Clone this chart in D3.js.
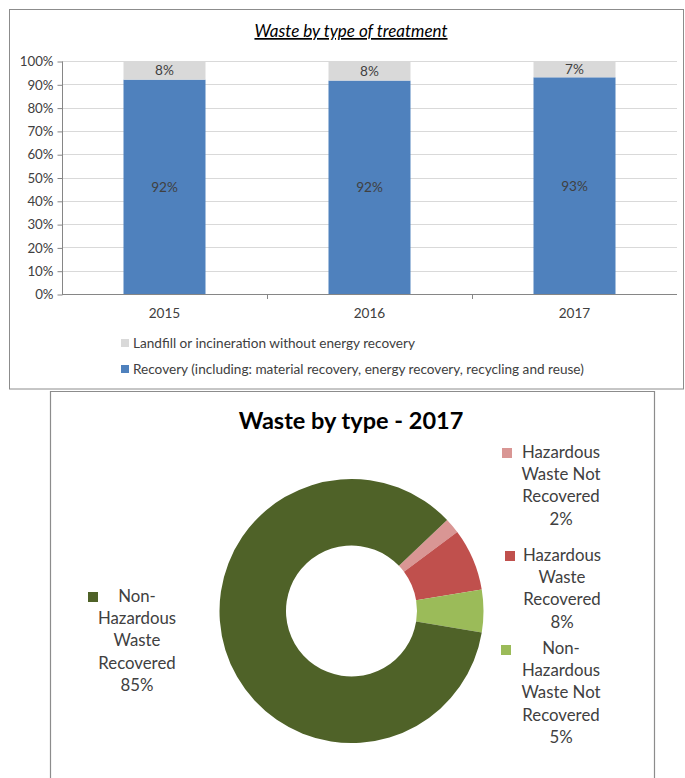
<!DOCTYPE html>
<html>
<head>
<meta charset="utf-8">
<script src="https://cdn.jsdelivr.net/npm/d3@7"></script>
<style>
  html, body { margin: 0; padding: 0; background: #fff; }
  svg { display: block; }
  text { font-family: Lato, "Open Sans", sans-serif; }
</style>
</head>
<body>
<svg id="chart" width="685" height="778"></svg>
<script>
// ---------- data ----------
const years = ["2015", "2016", "2017"];
const recovery = [92, 91.6, 93];
const landfill = [8, 8.4, 7];
const recoveryLabels = ["92%", "92%", "93%"];
const landfillLabels = ["8%", "8%", "7%"];
const yTicks = [0, 10, 20, 30, 40, 50, 60, 70, 80, 90, 100];
const barSeries = ["Landfill or incineration without energy recovery",
                   "Recovery (including: material recovery, energy recovery, recycling and reuse)"];

const wasteTypes = ["Hazardous Waste Not Recovered", "Hazardous Waste Recovered",
                    "Non-Hazardous Waste Not Recovered", "Non-Hazardous Waste Recovered"];
const wasteShares = [1.9, 7.6, 5.2, 85.3];
const wasteLegendLines = [
  ["Hazardous", "Waste Not", "Recovered"],
  ["Hazardous", "Waste", "Recovered"],
  ["Non-", "Hazardous", "Waste Not", "Recovered"],
  ["Non-", "Hazardous", "Waste", "Recovered"]
];

// ---------- styles ----------
const cBlue = "#4F81BD", cGray = "#D9D9D9";
const pieColors = ["#D99694", "#C0504D", "#9BBB59", "#4F6228"];
const fs = 13.6;
const svg = d3.select("#chart");

// ---------- frames ----------
svg.append("rect").attr("x", 9.5).attr("y", 9.5).attr("width", 674).attr("height", 379.5)
  .attr("fill", "none").attr("stroke", "#8c8c8c").attr("stroke-width", 1);
svg.append("path").attr("d", "M50.5,391 V778 M654.5,391 V778 M50.5,391.5 H654.5")
  .attr("fill", "none").attr("stroke", "#8c8c8c").attr("stroke-width", 1.2);

// ---------- bar chart ----------
const x = d3.scaleBand().domain(years).range([62, 677]).paddingInner(0.6).paddingOuter(0.3);
const y = d3.scaleLinear().domain([0, 100]).range([294, 61]);

svg.append("text").attr("x", 351).attr("y", 37).attr("text-anchor", "middle")
  .attr("font-size", 17).attr("font-style", "italic").attr("text-decoration", "underline")
  .attr("fill", "#000").text("Waste by type of treatment");

// grid
svg.append("g").selectAll("line").data(yTicks.filter(d => d > 0)).join("line")
  .attr("x1", 62).attr("x2", 677).attr("y1", d => Math.round(y(d)) + 0.5).attr("y2", d => Math.round(y(d)) + 0.5)
  .attr("stroke", "#D9D9D9");

// y axis
const yAxis = svg.append("g").attr("transform", "translate(62.5,0.5)")
  .call(d3.axisLeft(y).tickValues(yTicks).tickFormat(d => d + "%").tickSize(5).tickPadding(4));
yAxis.select(".domain").attr("stroke", "#868686").attr("d", `M-0,${y(100)}V${y(0)}`);
yAxis.selectAll(".tick line").attr("stroke", "#868686");
yAxis.selectAll(".tick text").attr("font-size", 13.3).attr("fill", "#404040").attr("font-family", "Lato, sans-serif");

// bars
svg.append("g").selectAll("rect").data(years).join("rect")
  .attr("x", d => x(d)).attr("width", x.bandwidth())
  .attr("y", (d, i) => y(recovery[i])).attr("height", (d, i) => y(0) - y(recovery[i]))
  .attr("fill", cBlue);
svg.append("g").selectAll("rect").data(years).join("rect")
  .attr("x", d => x(d)).attr("width", x.bandwidth())
  .attr("y", (d, i) => y(recovery[i] + landfill[i])).attr("height", (d, i) => y(recovery[i]) - y(recovery[i] + landfill[i]))
  .attr("fill", cGray);

// bar labels
svg.append("g").selectAll("text").data(years).join("text")
  .attr("x", d => x(d) + x.bandwidth() / 2)
  .attr("y", (d, i) => (y(0) + y(recovery[i])) / 2 + 5)
  .attr("text-anchor", "middle").attr("font-size", fs).attr("fill", "#404040")
  .text((d, i) => recoveryLabels[i]);
svg.append("g").selectAll("text").data(years).join("text")
  .attr("x", d => x(d) + x.bandwidth() / 2)
  .attr("y", (d, i) => (y(recovery[i]) + y(recovery[i] + landfill[i])) / 2 + 5)
  .attr("text-anchor", "middle").attr("font-size", fs).attr("fill", "#404040")
  .text((d, i) => landfillLabels[i]);

// x axis
svg.append("line").attr("x1", 62).attr("x2", 677).attr("y1", 294.5).attr("y2", 294.5).attr("stroke", "#868686");
const step = x.step();
svg.append("g").selectAll("line").data(years.slice(1)).join("line")
  .attr("x1", d => Math.round(x(d) - (step - x.bandwidth()) / 2) + 0.5)
  .attr("x2", d => Math.round(x(d) - (step - x.bandwidth()) / 2) + 0.5)
  .attr("y1", 294).attr("y2", 299).attr("stroke", "#868686");
svg.append("g").selectAll("text").data(years).join("text")
  .attr("x", d => x(d) + x.bandwidth() / 2).attr("y", 318)
  .attr("text-anchor", "middle").attr("font-size", fs).attr("fill", "#404040").text(d => d);

// legend
const lg = svg.append("g").selectAll("g").data(barSeries).join("g")
  .attr("transform", (d, i) => `translate(121,${339 + i * 26})`);
lg.append("rect").attr("width", 8).attr("height", 8).attr("fill", (d, i) => i === 0 ? cGray : cBlue);
lg.append("text").attr("x", 12).attr("y", 9).attr("font-size", fs).attr("fill", "#404040").text(d => d);

// ---------- donut ----------
svg.append("text").attr("x", 351).attr("y", 429).attr("text-anchor", "middle")
  .attr("font-size", 23.5).attr("font-weight", "bold").attr("fill", "#000").text("Waste by type - 2017");

const cx = 351.5, cy = 611, rOut = 132, rIn = 65.5;
const startDeg = 46.4;
const pie = d3.pie().sort(null).value(d => d)
  .startAngle(startDeg * Math.PI / 180).endAngle((startDeg + 360) * Math.PI / 180);
const arc = d3.arc().innerRadius(rIn).outerRadius(rOut);
svg.append("g").attr("transform", `translate(${cx},${cy})`)
  .selectAll("path").data(pie(wasteShares)).join("path")
  .attr("d", arc).attr("fill", (d, i) => pieColors[i]);

// donut legend
const legendPos = [
  { sx: 502, sy: 448, tx: 561, ty: 458 },
  { sx: 505, sy: 551, tx: 562, ty: 561 },
  { sx: 501, sy: 645, tx: 561, ty: 654 },
  { sx: 88, sy: 592, tx: 137, ty: 602 }
];
const lineH = 22.2;
wasteTypes.forEach((name, i) => {
  const p = legendPos[i];
  svg.append("rect").attr("x", p.sx).attr("y", p.sy).attr("width", 10).attr("height", 10).attr("fill", pieColors[i]);
  const lines = wasteLegendLines[i].concat([Math.round(wasteShares[i]) + "%"]);
  svg.append("g").selectAll("text").data(lines).join("text")
    .attr("x", p.tx).attr("y", (d, j) => p.ty + j * lineH)
    .attr("text-anchor", "middle").attr("font-size", 16.8).attr("fill", "#404040").text(d => d);
});
</script>
</body>
</html>
